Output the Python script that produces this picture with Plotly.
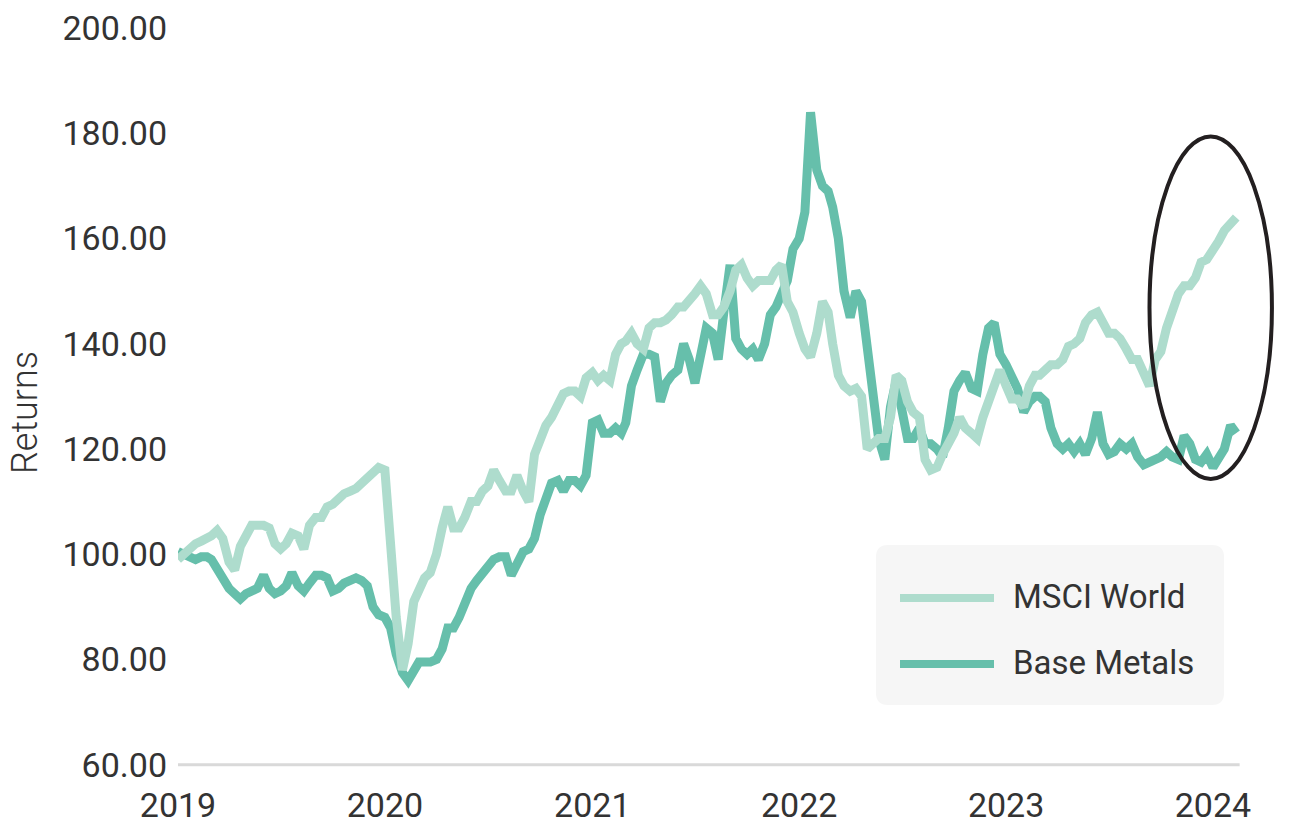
import plotly.graph_objects as go

# ---------------- data ----------------
years = [2019, 2020, 2021, 2022, 2023, 2024]
days_in_month = [1, 11, 21]
dates = [f"{y}-{m:02d}-{d:02d}" for y in years for m in range(1, 13) for d in days_in_month]

base_metals = [
    # 2019
    100.5, 100, 99.5, 99, 99.5, 99.5, 99, 97, 95.5, 93.5, 92.5, 91.5,
    92.5, 93, 93.5, 96, 93.5, 92.5, 93, 94, 96.5, 94, 93, 94.5,
    96, 96, 95.5, 93, 93.5, 94.5, 95, 95.5, 95, 94, 90, 88.5,
    # 2020
    88, 86, 81, 77.5, 76, 77.5, 79.5, 79.5, 79.5, 80, 82, 86,
    86, 88, 91, 93.5, 95, 96.5, 97.5, 99, 99.5, 99.5, 96, 98,
    100.5, 101, 103, 107.5, 110, 113.5, 114, 112, 114, 114, 113, 115,
    # 2021
    125, 125.5, 123, 123, 124, 123, 125, 132, 135, 138, 138, 137.5,
    129, 132.5, 134, 135, 140, 137, 132.5, 137, 143, 142, 137, 146,
    155, 141, 139, 138, 139, 137, 140, 145.5, 147, 149.5, 152, 158,
    # 2022
    160, 165, 184, 173, 170, 169, 166, 160, 150, 145, 150, 148,
    140, 129, 122, 118, 128, 133, 128, 122, 122, 124, 121, 121,
    120, 118.5, 124, 131, 133, 134.5, 131.5, 131, 138, 143, 144, 138,
    # 2023
    136, 134, 131.5, 127, 129, 130, 130, 129, 124, 121, 120, 121,
    119.5, 121, 119, 122, 127, 121, 119, 119.5, 121, 120, 121, 118.5,
    117, 117.5, 118, 118.5, 119.5, 118.5, 118, 122.5, 121, 118, 117.5, 119,
    # 2024
    116.5, 118.5, 120, 124.5, 123,
]

msci_world = [
    # 2019
    99, 100, 101, 102, 102.5, 103, 103.5, 104.5, 103, 98.5, 97, 101.5,
    103.5, 105.5, 105.5, 105.5, 105, 102, 101, 102, 104, 103.5, 101, 105.5,
    107, 107, 109, 109.5, 110.5, 111.5, 112, 112.5, 113.5, 114.5, 115.5, 116.5,
    # 2020
    116, 101, 88, 78, 83, 91, 93, 95.5, 96.5, 100, 105, 109,
    105, 105, 107, 110, 110, 112, 113, 116, 114, 112, 112, 115,
    112, 110, 119, 122, 124.5, 126, 128.5, 130.5, 131, 131, 130, 133.5,
    # 2021
    134.5, 133, 134, 133, 138, 140, 140.5, 142, 140, 139, 143, 144,
    144, 144.5, 145.5, 147, 147, 148, 149.5, 151, 149.5, 145.5, 145.5, 147,
    150, 154, 155, 152.5, 151, 152, 152, 152, 154, 155, 148, 146,
    # 2022
    142, 139, 137.5, 142, 148, 146, 140, 134, 132, 131, 131.5, 130,
    120, 121, 122, 122, 126, 134, 133, 129, 127, 126, 118, 116,
    116.5, 119, 121, 123, 126, 124, 123, 122, 126, 129, 131, 135,
    # 2023
    132, 129.5, 129.5, 128, 132, 134, 134, 135, 136, 136, 137, 139.5,
    140, 141, 144, 145.5, 146, 144, 142, 142, 141, 139, 137, 137,
    134, 132, 137, 138.5, 143, 146, 149.5, 151, 151, 152.5, 155.5, 156,
    # 2024
    157.5, 159.5, 161.5, 163, 164,
]

series_names = ["MSCI World", "Base Metals"]
year_ticks = ["2019-01-01", "2020-01-01", "2021-01-01", "2022-01-01", "2023-01-01", "2024-01-01"]
year_labels = ["2019", "2020", "2021", "2022", "2023", "2024"]
y_title = "Returns"

# highlighted region (ellipse), in data units
highlight_x = ["2023-09-11", "2024-04-14"]
highlight_y = [114.3, 179.4]

# ---------------- styling ----------------
C_MSCI = "#aedccd"
C_BASE = "#66bfab"
TXT = "#333333"
FONT = "Roboto"

W, H = 1300, 827
ML, MR, MT, MB = 178, 19, 28, 57
PW, PH = W - ML - MR, H - MT - MB


def px_to_paper(x, y):
    return (x - ML) / PW, (H - MB - y) / PH


dates_bm = dates[: len(base_metals)]
dates_ms = dates[: len(msci_world)]

fig = go.Figure()
fig.add_trace(go.Scatter(x=dates_bm, y=base_metals, mode="lines", name=series_names[1],
                         line=dict(color=C_BASE, width=9), showlegend=False))
fig.add_trace(go.Scatter(x=dates_ms, y=msci_world, mode="lines", name=series_names[0],
                         line=dict(color=C_MSCI, width=9), showlegend=False))

shapes = []
# bottom axis line
shapes.append(dict(type="line", xref="x", yref="y", x0=dates[0], x1="2024-02-17", y0=60, y1=60,
                   line=dict(color="#d9d9d9", width=3), layer="below"))
# ellipse
shapes.append(dict(type="circle", xref="x", yref="y", x0=highlight_x[0], x1=highlight_x[1],
                   y0=highlight_y[0], y1=highlight_y[1], line=dict(color="#231f20", width=4)))

# manual legend box with rounded corners
bx0, by0 = px_to_paper(876, 705)
bx1, by1 = px_to_paper(1224, 545)
rx, ry = 12 / PW, 12 / PH
path = (f"M {bx0+rx},{by0} L {bx1-rx},{by0} Q {bx1},{by0} {bx1},{by0+ry} "
        f"L {bx1},{by1-ry} Q {bx1},{by1} {bx1-rx},{by1} L {bx0+rx},{by1} "
        f"Q {bx0},{by1} {bx0},{by1-ry} L {bx0},{by0+ry} Q {bx0},{by0} {bx0+rx},{by0} Z")
shapes.append(dict(type="path", xref="paper", yref="paper", path=path,
                   fillcolor="#f6f6f6", line=dict(width=0), layer="above"))

annotations = []
for name, color, ypx in [(series_names[0], C_MSCI, 598), (series_names[1], C_BASE, 664)]:
    lx0, ly = px_to_paper(900, ypx)
    lx1, _ = px_to_paper(994, ypx)
    shapes.append(dict(type="line", xref="paper", yref="paper", x0=lx0, x1=lx1, y0=ly, y1=ly,
                       line=dict(color=color, width=8), layer="above"))
    tx, ty = px_to_paper(1011, ypx - 2)
    annotations.append(dict(xref="paper", yref="paper", x=tx, y=ty, text=name, showarrow=False,
                            xanchor="left", yanchor="middle",
                            font=dict(family=FONT, size=33, color=TXT)))

tx, ty = px_to_paper(25, 413)
annotations.append(dict(xref="paper", yref="paper", x=tx, y=ty, text=y_title, showarrow=False,
                        textangle=-90, xanchor="center", yanchor="middle",
                        font=dict(family=FONT, size=36, color=TXT, weight=300)))

fig.update_layout(
    template="none",
    width=W, height=H,
    margin=dict(l=ML, r=MR, t=MT, b=MB, pad=0, autoexpand=False),
    paper_bgcolor="white", plot_bgcolor="white",
    shapes=shapes, annotations=annotations,
    showlegend=False,
    xaxis=dict(type="date", range=["2019-01-01", "2024-04-30"], automargin=False,
               tickmode="array", tickvals=year_ticks, ticktext=year_labels,
               showgrid=False, zeroline=False, showline=False, ticks="",
               ticklabelstandoff=12,
               tickfont=dict(family=FONT, size=34, color=TXT)),
    yaxis=dict(range=[59, 200], tickmode="linear", tick0=60, dtick=20, tickformat=".2f",
               automargin=False,
               showgrid=False, zeroline=False, showline=False, ticks="",
               ticklabelstandoff=10,
               tickfont=dict(family=FONT, size=34, color=TXT)),
)

fig.write_html("out.html")
